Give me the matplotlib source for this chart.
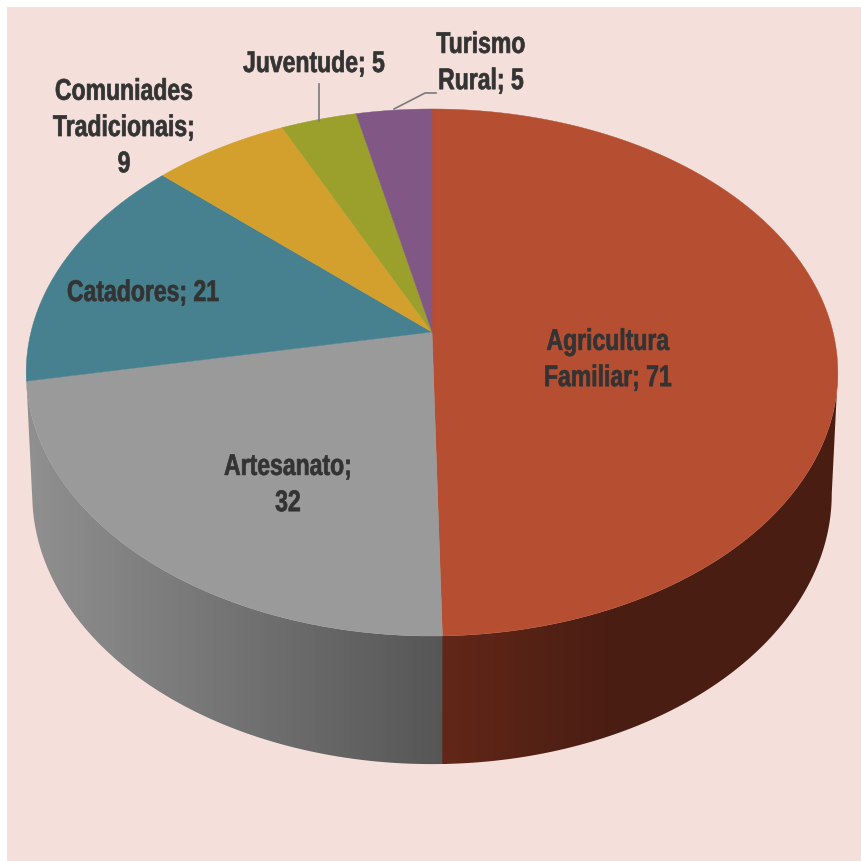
import matplotlib
matplotlib.use('Agg')
import matplotlib.pyplot as plt
import matplotlib.patheffects as pe
from matplotlib.patches import Polygon
from matplotlib.transforms import Affine2D
import numpy as np

# Slices, clockwise from 12 o'clock
categories = ['Agricultura\nFamiliar', 'Artesanato', 'Catadores',
              'Comuniades\nTradicionais', 'Juventude', 'Turismo\nRural']
values = [71, 32, 21, 9, 5, 5]
top_colors = ['#b64f32', '#9a9a9a', '#47808e', '#d3a02d', '#9aa02b', '#815885']

# Label texts as they appear in the chart, with their centre in pixels
label_texts = ['Agricultura\nFamiliar; 71', 'Artesanato;\n32', 'Catadores; 21',
               'Comuniades\nTradicionais;\n9', 'Juventude; 5', 'Turismo\nRural; 5']
label_x = [608, 288, 143, 124, 314, 481]
label_y = [361, 486, 294, 129, 65, 64]

BG = '#f4dfda'
TEXT = '#333333'

# Perspective of the disc: apex sits above the centre of the ellipse
APEX_X, APEX_Y = 432, 333
GAMMA = 0.1537
BETA = -206.1
A = 401
# Rim at the bottom of the side wall
RIM_K, RIM_M, RIM_CY, TOP_CY = 0.985, 1.025, 495, 373.5


class SqueezeX(pe.AbstractPathEffect):
    """Narrow a text horizontally around its centre (no narrow font is installed)."""

    def __init__(self, center_x, factor, stroke):
        super().__init__()
        self.center_x = center_x
        self.factor = factor
        self.stroke = stroke

    def draw_path(self, renderer, gc, tpath, affine, rgbFace=None):
        squeeze = Affine2D().translate(-self.center_x, 0).scale(self.factor, 1).translate(self.center_x, 0)
        # thin outline, squeezing makes the stems lighter than in the original
        gc0 = renderer.new_gc()
        gc0.copy_properties(gc)
        gc0.set_linewidth(self.stroke)
        gc0.set_foreground(rgbFace)
        renderer.draw_path(gc0, tpath, affine + squeeze, rgbFace)
        gc0.restore()


def project(theta):
    """Disc angle (radians, clockwise from top) to pixel position on the top face."""
    u, v = np.sin(theta), np.cos(theta)
    d = 1 + GAMMA * v
    return APEX_X + A * u / d, (APEX_Y + BETA * v) / d


def project_bottom(theta):
    x, y = project(theta)
    return APEX_X + (x - APEX_X) * RIM_K, RIM_CY + (y - TOP_CY) * RIM_M


def wall_gradient(index, xs):
    # shading of the wall changes with the horizontal position
    if index == 0:
        f = np.clip((xs - 443) / 170, 0, 1)
        start, end = np.array([0x62, 0x27, 0x18]), np.array([0x4a, 0x1d, 0x13])
    else:
        f = np.clip((443 - xs) / 415, 0, 1)
        start, end = np.array([0x56, 0x56, 0x56]), np.array([0x90, 0x90, 0x90])
    return (start + (end - start) * f[..., None]) / 255


fig = plt.figure(figsize=(8.61, 8.62), dpi=100, facecolor='white')
ax = fig.add_axes([0, 0, 1, 1])
ax.axis('off')
ax.fill([7, 861, 861, 7], [8, 8, 862, 862], color=BG, lw=0, zorder=0)

edges = np.cumsum([0] + values) / sum(values) * 2 * np.pi

# Side wall, only the two front slices show it.
# It starts at the widest point of the rim, the part above is behind the top face.
widest = np.arccos(-GAMMA)
pixel_x = np.arange(861) + 0.5
for i in [1, 0]:
    t0 = max(edges[i], widest)
    t1 = edges[i + 1]
    if i == 1:
        t0 -= 0.01  # slips under the red wall so no light seam shows
    t = np.linspace(t0, t1, 300)
    x_top, y_top = project(t)
    x_bot, y_bot = project_bottom(t)
    outline = np.column_stack([np.r_[x_top, x_bot[::-1]], np.r_[y_top, y_bot[::-1]]])
    clip = Polygon(outline, closed=True, transform=ax.transData, facecolor='none', edgecolor='none')
    ax.add_patch(clip)
    img = ax.imshow(wall_gradient(i, pixel_x)[None, :, :], extent=(0, 861, 862, 0),
                    aspect='auto', interpolation='nearest', zorder=1 + (i == 0) * 0.1)
    img.set_clip_path(clip)

ax.set_xlim(0, 861)
ax.set_ylim(862, 0)

# Top face
for i, col in enumerate(top_colors):
    t = np.linspace(edges[i], edges[i + 1], 200)
    x, y = project(t)
    ax.fill(np.r_[APEX_X, x], np.r_[APEX_Y, y], color=col, lw=0.3, zorder=2)

for txt, lx, ly in zip(label_texts, label_x, label_y):
    ax.text(lx, ly, txt, ha='center', va='center', ma='center', color=TEXT,
            fontsize=21.5, fontweight='bold', family='Liberation Sans', linespacing=1.375,
            zorder=3, path_effects=[SqueezeX(lx, 0.77, 0.5)])

# Leader lines for the two small slices
ax.plot([318.5, 318.5], [85, 122], color='#7a7a7a', lw=1.2, zorder=3)
ax.plot([436, 425, 394], [94, 94, 110], color='#7a7a7a', lw=1.2, zorder=3)

fig.savefig('out.png', dpi=100, facecolor='white')
